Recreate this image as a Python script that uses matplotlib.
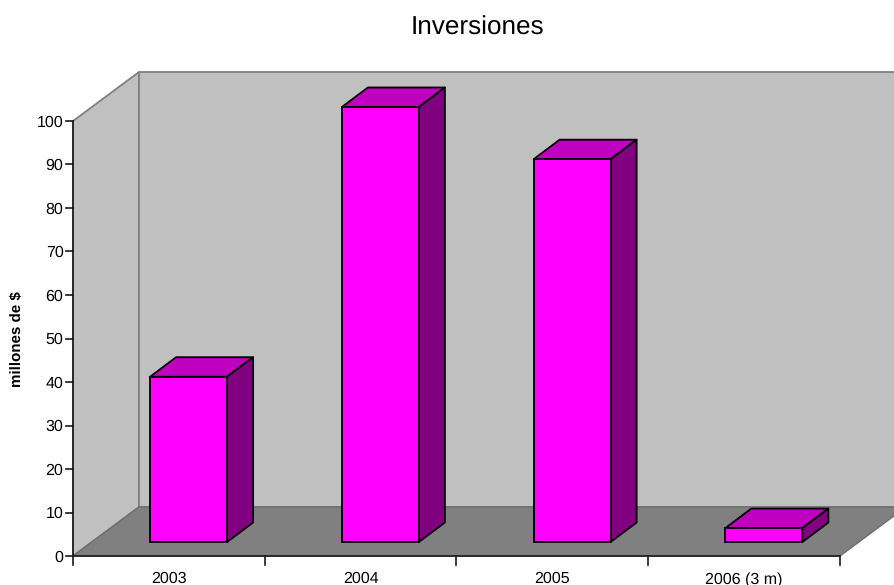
import matplotlib
matplotlib.use("Agg")
import matplotlib.pyplot as plt

plt.rcParams['font.family'] = ['Liberation Sans', 'DejaVu Sans']
plt.rcParams['text.hinting'] = 'no_hinting'

title = "Inversiones"
y_label = "millones de $"
categories = ["2003", "2004", "2005", "2006 (3 m)"]
values = [38, 100, 88, 3.2]
y_ticks = [0, 10, 20, 30, 40, 50, 60, 70, 80, 90, 100]

# pixel geometry of the plot box
W, H = 895, 585
X0, X1 = 73.0, 840.0     # category 0 .. 4
Y0, Y100 = 556.0, 121.0  # value 0 .. 100
px_x = (X1 - X0) / 4     # px per category
px_y = (Y0 - Y100) / 100 # px per value

fig = plt.figure(figsize=(W / 100, H / 100), dpi=100, facecolor="white")
ax = fig.add_axes([0, 0, 1, 1])
ax.set_xlim(-X0 / px_x, (W - X0) / px_x)
ax.set_ylim((Y0 - H) / px_y, Y0 / px_y)
ax.axis("off")

# depth of the box and of the bars, in data units
box_dx, box_dy = 66 / px_x, 49 / px_y
bar_dx, bar_dy = 26 / px_x, 19.5 / px_y
base_dy = 14 / px_y
bar_w = 77 / px_x
centres = [i + 0.603 for i in range(len(categories))]

WALL, FLOOR, EDGE = "#C0C0C0", "#808080", "#808080"

# walls and floor
ax.fill([0, box_dx, box_dx, 0], [0, box_dy, 100 + box_dy, 100],
        facecolor=WALL, edgecolor=EDGE, lw=1.3, zorder=1)
ax.fill([box_dx, 4 + box_dx, 4 + box_dx, box_dx], [box_dy, box_dy, 100 + box_dy, 100 + box_dy],
        facecolor=WALL, edgecolor=EDGE, lw=1.3, zorder=1)
ax.fill([0, 4, 4 + box_dx, box_dx], [0, 0, box_dy, box_dy],
        facecolor=FLOOR, edgecolor="#6E6E6E", lw=1.0, zorder=2)

# bars
ax.bar(centres, values, width=bar_w, bottom=base_dy, color="#FF00FF",
       edgecolor="black", linewidth=1.3, zorder=5)
for c, v in zip(centres, values):
    l, r = c - bar_w / 2, c + bar_w / 2
    b, t = base_dy, base_dy + v
    ax.fill([l, r, r + bar_dx, l + bar_dx], [t, t, t + bar_dy, t + bar_dy],
            facecolor="#C000C0", edgecolor="black", lw=1.3, zorder=4, joinstyle="round")
    ax.fill([r, r + bar_dx, r + bar_dx, r], [b, b + bar_dy, t + bar_dy, t],
            facecolor="#800080", edgecolor="black", lw=1.3, zorder=4, joinstyle="round")

# axes lines, ticks, labels
AX = "#1A1A1A"
ax.plot([0, 0], [0, 100], color=AX, lw=1.2, zorder=6, solid_capstyle="projecting")
ax.plot([0, 4], [0, 0], color=AX, lw=1.2, zorder=6, solid_capstyle="projecting")
for t in y_ticks:
    ax.plot([-7 / px_x, 0], [t, t], color=AX, lw=1.2, zorder=6)
    ax.text(-9.5 / px_x, t, str(t), ha="right", va="center_baseline", fontsize=11.5, color="black")
for i in range(len(categories) + 1):
    ax.plot([i, i], [0, -8.5 / px_y], color=AX, lw=1.2, zorder=6)
for i, cat in enumerate(categories):
    ax.text(i + 0.5, -21.5 / px_y, cat, ha="center", va="center_baseline", fontsize=11.5, color="black")

ax.text((17 - X0) / px_x, (Y0 - 339) / px_y, y_label, rotation=90, ha="center", va="center",
        fontsize=10.9, fontweight="bold", color="black")
ax.text((477.5 - X0) / px_x, (Y0 - 28.5) / px_y, title, ha="center", va="center",
        fontsize=18.8, color="black")

fig.savefig("out.png", dpi=100, facecolor="white")
